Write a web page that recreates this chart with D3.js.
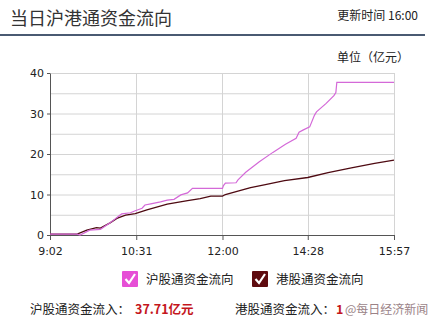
<!DOCTYPE html>
<html>
<head>
<meta charset="utf-8">
<script src="https://cdn.jsdelivr.net/npm/d3@7"></script>
<style>
    body { margin: 0; background: #fff; font-family: "Noto Sans CJK SC", "DejaVu Sans", sans-serif; }
    svg { display: block; }
</style>
</head>
<body>
<div id="chart"></div>
<script>
// tick labels on the time axis
const xTickLabels = ["9:02", "10:31", "12:00", "14:28", "15:57"]
const yTicks = [0, 10, 20, 30, 40]

// 沪股通 (northbound) cumulative inflow
const shTimes = ["9:02", "9:30", "9:33", "9:43", "9:54", "10:04", "10:13", "10:16", "10:25", "10:30", "10:37", "10:40",
    "10:46", "10:56", "11:03", "11:10", "11:17", "11:24", "11:29", "12:00", "13:01", "13:03", "13:14", "13:16",
    "13:24", "13:38", "13:52", "14:05", "14:16", "14:19", "14:23", "14:30", "14:35", "14:37", "14:47", "14:55",
    "14:57", "14:58", "15:57"]
const shValues = [0.2, 0.2, 0.0, 1.2, 1.4, 3.0, 4.7, 5.2, 5.5, 6.0, 6.6, 7.4,
    7.7, 8.2, 8.6, 8.8, 9.9, 10.4, 11.5, 11.5, 12.2, 12.8, 12.9, 13.6,
    15.5, 18.1, 20.4, 22.4, 23.9, 25.4, 25.9, 26.7, 29.6, 30.4, 32.5, 34.4,
    35.2, 37.71, 37.71]

// 港股通 (southbound) cumulative inflow
const hkTimes = ["9:02", "9:30", "9:40", "9:50", "9:54", "10:04", "10:11", "10:20", "10:30", "10:42", "11:03", "11:24",
    "11:37", "11:48", "12:00", "13:03", "13:15", "13:29", "13:43", "14:04", "14:28", "14:49", "15:13", "15:37", "15:57"]
const hkValues = [0.2, 0.2, 1.2, 1.8, 1.7, 3.0, 4.1, 4.9, 5.3, 6.2, 7.6, 8.5,
    9.0, 9.6, 9.6, 10.0, 10.8, 11.7, 12.4, 13.4, 14.2, 15.4, 16.6, 17.7, 18.5]

const shTotal = "37.71亿元"
// only the leading digit of the HK total is readable, the rest sits under the watermark
const hkTotalVisible = "1"
const watermark = "@每日经济新闻"

const PINK = "#d469d8"
const DARKRED = "#4e0a12"

// trading minute index, lunch hour 12:00-13:00 skipped
function minuteIndex(t) {
    let [h, m] = t.split(":").map(Number)
    let mins = h * 60 + m
    if (mins >= 13 * 60) mins -= 60
    return mins - (9 * 60 + 2)
}

const width = 436, height = 321
const margin = { top: 73, left: 50, right: 42, bottom: 86 }
const w = 394 - margin.left
const h = 235 - margin.top

const svg = d3.select("#chart").append("svg")
    .attr("width", width)
    .attr("height", height)

// header
svg.append("text")
    .attr("x", 10).attr("y", 25)
    .attr("font-size", 18)
    .attr("fill", "#333")
    .text("当日沪港通资金流向")

svg.append("text")
    .attr("x", 418).attr("y", 20)
    .attr("text-anchor", "end")
    .attr("font-size", 12)
    .attr("fill", "#222")
    .text("更新时间 16:00")

svg.append("rect")
    .attr("x", 0).attr("y", 34)
    .attr("width", 425).attr("height", 2)
    .attr("fill", "#4a5a72")

svg.append("text")
    .attr("x", 409).attr("y", 62)
    .attr("text-anchor", "end")
    .attr("font-size", 12)
    .attr("fill", "#222")
    .text("单位（亿元）")

const g = svg.append("g")
    .attr("transform", "translate(" + margin.left + "," + margin.top + ")")

// scales
const x = d3.scaleLinear()
    .domain([0, minuteIndex("15:57")])
    .range([0, w])

const y = d3.scaleLinear()
    .domain([0, 40])
    .range([h, 0])

// grid
g.selectAll(".hgrid")
    .data(d3.range(5, 41, 5))
    .enter().append("line")
    .attr("class", "hgrid")
    .attr("x1", 0).attr("x2", w)
    .attr("y1", d => y(d) + 0.5).attr("y2", d => y(d) + 0.5)
    .attr("stroke", "#d4d4d4")

g.selectAll(".vgrid")
    .data(xTickLabels.slice(1))
    .enter().append("line")
    .attr("class", "vgrid")
    .attr("x1", d => Math.round(x(minuteIndex(d))) + 0.5)
    .attr("x2", d => Math.round(x(minuteIndex(d))) + 0.5)
    .attr("y1", 0).attr("y2", h)
    .attr("stroke", "#d4d4d4")

// axes
const xAxis = d3.axisBottom(x)
    .tickValues(xTickLabels.map(minuteIndex))
    .tickFormat((d, i) => xTickLabels[i])
    .tickSize(5)
    .tickSizeOuter(0)

const yAxis = d3.axisLeft(y)
    .tickValues(yTicks)
    .tickSize(3)
    .tickSizeOuter(0)

g.append("g")
    .attr("class", "x-axis")
    .attr("transform", "translate(0," + h + ")")
    .call(xAxis)

g.append("g")
    .attr("class", "y-axis")
    .call(yAxis)

g.selectAll(".domain, .tick line").attr("stroke", "#555")
g.selectAll(".tick text")
    .attr("fill", "#222")
    .attr("font-size", 11)
    .attr("font-family", "DejaVu Sans, sans-serif")
g.select(".x-axis").selectAll(".tick text").attr("dy", "1.1em")

// lines
const line = d3.line()
    .x(d => x(d.t))
    .y(d => y(d.v))

const shData = shTimes.map((t, i) => ({ t: minuteIndex(t), v: shValues[i] }))
const hkData = hkTimes.map((t, i) => ({ t: minuteIndex(t), v: hkValues[i] }))

g.append("path")
    .datum(hkData)
    .attr("d", line)
    .attr("fill", "none")
    .attr("stroke", DARKRED)
    .attr("stroke-width", 1.3)

g.append("path")
    .datum(shData)
    .attr("d", line)
    .attr("fill", "none")
    .attr("stroke", PINK)
    .attr("stroke-width", 1.2)

// legend
const legend = [
    { name: "沪股通资金流向", color: "#e64fd6", x: 122 },
    { name: "港股通资金流向", color: "#5e0b0f", x: 252 }
]

const items = svg.selectAll(".legend")
    .data(legend)
    .enter().append("g")
    .attr("class", "legend")
    .attr("transform", d => "translate(" + d.x + ",271)")

items.append("rect")
    .attr("width", 16).attr("height", 16)
    .attr("rx", 1)
    .attr("fill", d => d.color)

items.append("path")
    .attr("d", "M3.5,8 L7,12 L13,3")
    .attr("fill", "none")
    .attr("stroke", "#fff")
    .attr("stroke-width", 2.2)

items.append("text")
    .attr("x", 24).attr("y", 13)
    .attr("font-size", 12.5)
    .attr("fill", "#222")
    .text(d => d.name)

// totals
svg.append("text")
    .attr("x", 30).attr("y", 314)
    .attr("font-size", 12.5)
    .attr("fill", "#222")
    .text("沪股通资金流入：")

svg.append("text")
    .attr("x", 135).attr("y", 314)
    .attr("font-size", 12.5)
    .attr("font-weight", "bold")
    .attr("fill", "#c4161c")
    .text(shTotal)

svg.append("text")
    .attr("x", 235).attr("y", 314)
    .attr("font-size", 12.5)
    .attr("fill", "#222")
    .text("港股通资金流入：")

svg.append("text")
    .attr("x", 336).attr("y", 314)
    .attr("font-size", 12.5)
    .attr("font-weight", "bold")
    .attr("fill", "#c4161c")
    .text(hkTotalVisible)

// watermark
svg.append("text")
    .attr("x", 345).attr("y", 314)
    .attr("font-size", 12)
    .attr("fill", "#8a6d72")
    .attr("opacity", 0.85)
    .text(watermark)
</script>
</body>
</html>
